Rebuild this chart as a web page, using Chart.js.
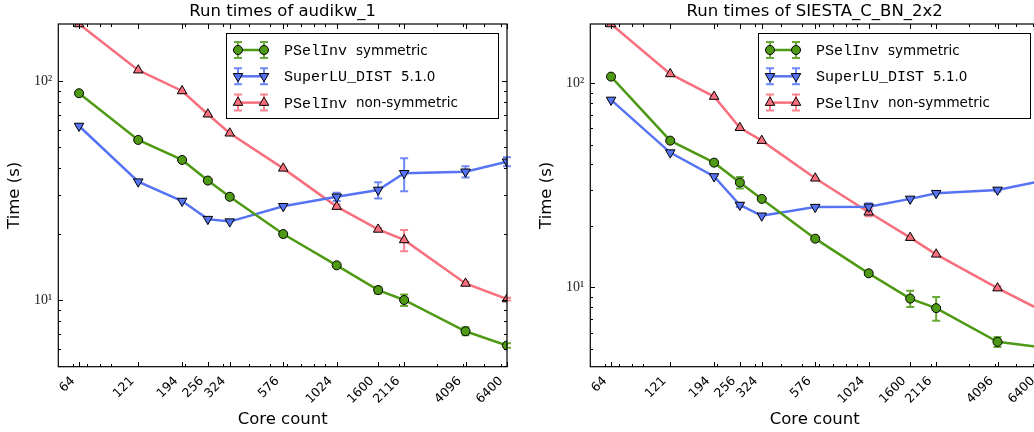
<!DOCTYPE html>
<html>
<head>
<meta charset="utf-8">
<script src="https://cdn.jsdelivr.net/npm/chart.js@4/dist/chart.umd.min.js"></script>
<style>
  html, body { margin: 0; padding: 0; background: #fff; overflow: hidden; }
  #wrap { position: relative; width: 1034px; height: 432px; overflow: hidden; }
  .panel { position: absolute; top: 0; width: 517px; height: 432px; }
</style>
</head>
<body>
<div id="wrap">
  <div class="panel" style="left:0"><canvas id="audikw" width="517" height="432"></canvas></div>
  <div class="panel" style="left:532px"><canvas id="siesta" width="517" height="432"></canvas></div>
</div>
<script>
// core counts (x) and the tick labels shown on the x axis
const coreCounts = [64, 121, 194, 256, 324, 576, 1024, 1600, 2116, 4096, 6400];
const xTickValues = [64, 121, 194, 256, 324, 576, 1024, 1600, 2116, 4096, 6400];
const yTickValues = [10, 100];

// legend text: typewriter part + normal part
const seriesMono = ['PSelInv', 'SuperLU_DIST', 'PSelInv'];
const seriesRest = ['symmetric', '5.1.0', 'non-symmetric'];

// audikw_1 run times (s)
const audiSym = [87.9, 53.8, 43.6, 35.1, 29.6, 20.0, 14.4, 11.1, 10.0, 7.2, 6.2];
const audiSymErr = [0, 0, 0, 0, 0, 0, 0, 0.4, 0.6, 0.3, 0.15];
const audiSlu = [62.3, 34.7, 28.3, 23.4, 22.8, 26.8, 29.6, 31.8, 37.9, 38.5, 42.8];
const audiSluErr = [0, 0, 0, 0, 0, 0, 1.3, 2.7, 6.5, 2.3, 2.0];
const audiNonSym = [182, 112, 90.0, 70.5, 57.7, 39.9, 26.7, 21.0, 18.8, 11.9, 10.1];
const audiNonSymErr = [0, 0, 0, 0, 0, 0, 0.6, 0.3, 2.1, 0.2, 0.15];

// SIESTA_C_BN_2x2 run times (s)
const siestaSym = [107.7, 52.3, 40.8, 32.6, 27.1, 17.3, 11.7, 8.8, 7.9, 5.4, 5.1];
const siestaSymErr = [0, 0, 0, 2.1, 0, 0, 0.2, 0.8, 1.05, 0.3, 0];
const siestaSlu = [82.8, 45.7, 34.9, 25.3, 22.4, 24.7, 24.8, 27.1, 28.9, 30.0, 33.0];
const siestaSluErr = [0, 0, 0, 0.6, 0, 0, 1.0, 0, 0, 0.5, 0];
const siestaNonSym = [195, 111, 86.0, 60.5, 52.3, 34.2, 23.3, 17.5, 14.5, 9.9, 7.8];
const siestaNonSymErr = [0, 0, 0, 0, 0, 0, 1.0, 0, 0, 0.2, 0];

const GREEN = '#4f9a14';
const BLUE = '#5573f3';
const RED = '#f76e7d';

const sup = ['\u2070', '\u00b9', '\u00b2', '\u00b3'];

function toPoints(ys) {
  return coreCounts.map((x, i) => ({ x: x, y: ys[i] }));
}

// minor ticks of a log axis, skipping the decades themselves
function minorTicks(min, max) {
  const out = [];
  for (let d = Math.pow(10, Math.floor(Math.log10(min))); d <= max; d *= 10) {
    for (let m = 2; m <= 9; m++) {
      const v = m * d;
      if (v > min && v < max) out.push(v);
    }
  }
  return out;
}

// error bars, drawn under the lines
const errorBars = {
  id: 'errorBars',
  beforeDatasetsDraw(chart) {
    const ctx = chart.ctx;
    const ys = chart.scales.y;
    ctx.save();
    chart.data.datasets.forEach((ds, i) => {
      const meta = chart.getDatasetMeta(i);
      ctx.strokeStyle = ds.borderColor;
      ctx.globalAlpha = 0.85;
      ctx.lineWidth = 2;
      meta.data.forEach((pt, j) => {
        const e = ds.errors[j];
        if (!e) return;
        const y1 = ys.getPixelForValue(ds.data[j].y + e);
        const y2 = ys.getPixelForValue(ds.data[j].y - e);
        ctx.beginPath();
        ctx.moveTo(pt.x, y1); ctx.lineTo(pt.x, y2);
        ctx.moveTo(pt.x - 4, y1); ctx.lineTo(pt.x + 4, y1);
        ctx.moveTo(pt.x - 4, y2); ctx.lineTo(pt.x + 4, y2);
        ctx.stroke();
      });
    });
    ctx.restore();
  }
};

// box frame with inward ticks on all four sides, plus the legend box
const frame = {
  id: 'frame',
  afterDraw(chart) {
    const ctx = chart.ctx;
    const a = chart.chartArea;
    const xs = chart.scales.x, ys = chart.scales.y;
    ctx.save();
    ctx.fillStyle = '#000';
    const L = Math.round(a.left), R = Math.round(a.right);
    const T = Math.round(a.top), B = Math.round(a.bottom);
    const tick = (v, len, horiz) => {
      if (horiz) {
        const p = Math.round(xs.getPixelForValue(v));
        ctx.fillRect(p, B - len, 1, len);
        ctx.fillRect(p, T, 1, len);
      } else {
        const p = Math.round(ys.getPixelForValue(v));
        ctx.fillRect(L, p, len, 1);
        ctx.fillRect(R - len, p, len, 1);
      }
    };
    xTickValues.forEach(v => tick(v, 5, true));
    minorTicks(xs.min, xs.max).forEach(v => tick(v, 3, true));
    yTickValues.forEach(v => tick(v, 5, false));
    minorTicks(ys.min, ys.max).forEach(v => tick(v, 3, false));
    ctx.strokeStyle = '#000';
    ctx.lineWidth = 1.2;
    ctx.strokeRect(a.left, a.top, a.right - a.left, a.bottom - a.top);

    // legend box
    const bx = Math.round(a.left + 168), by = Math.round(a.top + 8.5), bw = 272, bh = 85;
    ctx.fillStyle = '#fff';
    ctx.fillRect(bx, by, bw, bh);
    ctx.lineWidth = 1;
    ctx.strokeRect(bx + 0.5, by + 0.5, bw, bh);
    chart.data.datasets.forEach((ds, i) => {
      const ry = by + 17 + i * 26.3;
      const x1 = bx + 12, x2 = bx + 38;
      ctx.strokeStyle = ds.borderColor;
      ctx.globalAlpha = 0.85;
      ctx.lineWidth = 2;
      ctx.beginPath();
      [x1, x2].forEach(x => {
        ctx.moveTo(x, ry - 8); ctx.lineTo(x, ry + 8);
        ctx.moveTo(x - 4, ry - 8); ctx.lineTo(x + 4, ry - 8);
        ctx.moveTo(x - 4, ry + 8); ctx.lineTo(x + 4, ry + 8);
      });
      ctx.stroke();
      ctx.globalAlpha = 1;
      ctx.lineWidth = 2.5;
      ctx.beginPath();
      ctx.moveTo(x1, ry); ctx.lineTo(x2, ry);
      ctx.stroke();
      ctx.fillStyle = ds.pointBackgroundColor;
      ctx.strokeStyle = '#000';
      ctx.lineWidth = 1;
      [x1, x2].forEach(x => Chart.helpers.drawPoint(ctx, {
        pointStyle: ds.pointStyle, radius: ds.pointRadius,
        rotation: ds.pointRotation || 0, borderWidth: 1
      }, x, ry));
      ctx.fillStyle = '#000';
      ctx.textBaseline = 'middle';
      ctx.textAlign = 'left';
      ctx.font = '15px "Liberation Mono"';
      const tx = bx + 58;
      ctx.fillText(seriesMono[i], tx, ry + 1);
      const w = ctx.measureText(seriesMono[i] + ' ').width;
      ctx.font = '13.5px "DejaVu Sans"';
      ctx.fillText(seriesRest[i], tx + w, ry + 1);
    });
    ctx.restore();
  }
};

function makeChart(id, title, sym, symErr, slu, sluErr, nonSym, nonSymErr, yMin, yMax) {
  const ctx = document.getElementById(id).getContext('2d');
  return new Chart(ctx, {
    type: 'line',
    data: {
      datasets: [{
        label: seriesMono[0] + ' ' + seriesRest[0],
        data: toPoints(sym),
        errors: symErr,
        borderColor: GREEN,
        pointBackgroundColor: GREEN,
        pointStyle: 'circle',
        pointRadius: 4.5
      }, {
        label: seriesMono[1] + ' ' + seriesRest[1],
        data: toPoints(slu),
        errors: sluErr,
        borderColor: BLUE,
        pointBackgroundColor: BLUE,
        pointStyle: 'triangle',
        pointRotation: 180,
        pointRadius: 5.5
      }, {
        label: seriesMono[2] + ' ' + seriesRest[2],
        data: toPoints(nonSym),
        errors: nonSymErr,
        borderColor: RED,
        pointBackgroundColor: RED,
        pointStyle: 'triangle',
        pointRadius: 5.5
      }]
    },
    options: {
      responsive: false,
      animation: false,
      datasets: {
        line: {
          borderWidth: 2.5,
          pointBorderColor: '#000',
          pointBorderWidth: 1,
          tension: 0
        }
      },
      layout: { padding: { left: 0, right: 10, top: 0, bottom: 0 } },
      scales: {
        x: {
          type: 'logarithmic',
          min: 51.2,
          max: 6400,
          afterBuildTicks: s => { s.ticks = xTickValues.map(v => ({ value: v })); },
          afterFit: s => { s.height = 65.3; s.paddingLeft = 0; s.paddingRight = 0; },
          grid: { display: false, drawTicks: false },
          border: { display: false },
          ticks: {
            autoSkip: false,
            minRotation: 45,
            maxRotation: 45,
            padding: 7,
            labelOffset: -6,
            color: '#000',
            font: { family: '"DejaVu Sans"', size: 12.5 },
            callback: v => String(v)
          },
          title: {
            display: true,
            text: 'Core count',
            color: '#000',
            font: { family: '"DejaVu Sans"', size: 16.5 },
            padding: { top: 2, bottom: 2 }
          }
        },
        y: {
          type: 'logarithmic',
          min: yMin,
          max: yMax,
          afterBuildTicks: s => { s.ticks = yTickValues.map(v => ({ value: v })); },
          afterFit: s => { s.width = 58.3; s.paddingTop = 0; s.paddingBottom = 0; },
          grid: { display: false, drawTicks: false },
          border: { display: false },
          ticks: {
            padding: 6,
            color: '#222',
            font: { family: '"Liberation Serif"', size: 14 },
            callback: v => '10' + sup[Math.round(Math.log10(v))]
          },
          title: {
            display: true,
            text: 'Time (s)',
            color: '#000',
            font: { family: '"DejaVu Sans"', size: 16.5 },
            padding: { top: 5, bottom: 5 }
          }
        }
      },
      plugins: {
        legend: { display: false },
        tooltip: { enabled: false },
        title: {
          display: true,
          text: title,
          fullSize: false,
          color: '#000',
          font: { family: '"DejaVu Sans"', size: 16.5, weight: 'normal' },
          padding: { top: 1.5, bottom: 2.7 }
        }
      }
    },
    plugins: [errorBars, frame]
  });
}

makeChart('audikw', 'Run times of audikw_1',
  audiSym, audiSymErr, audiSlu, audiSluErr, audiNonSym, audiNonSymErr, 4.96, 182);
makeChart('siesta', 'Run times of SIESTA_C_BN_2x2',
  siestaSym, siestaSymErr, siestaSlu, siestaSluErr, siestaNonSym, siestaNonSymErr, 4.08, 195);
</script>
</body>
</html>
